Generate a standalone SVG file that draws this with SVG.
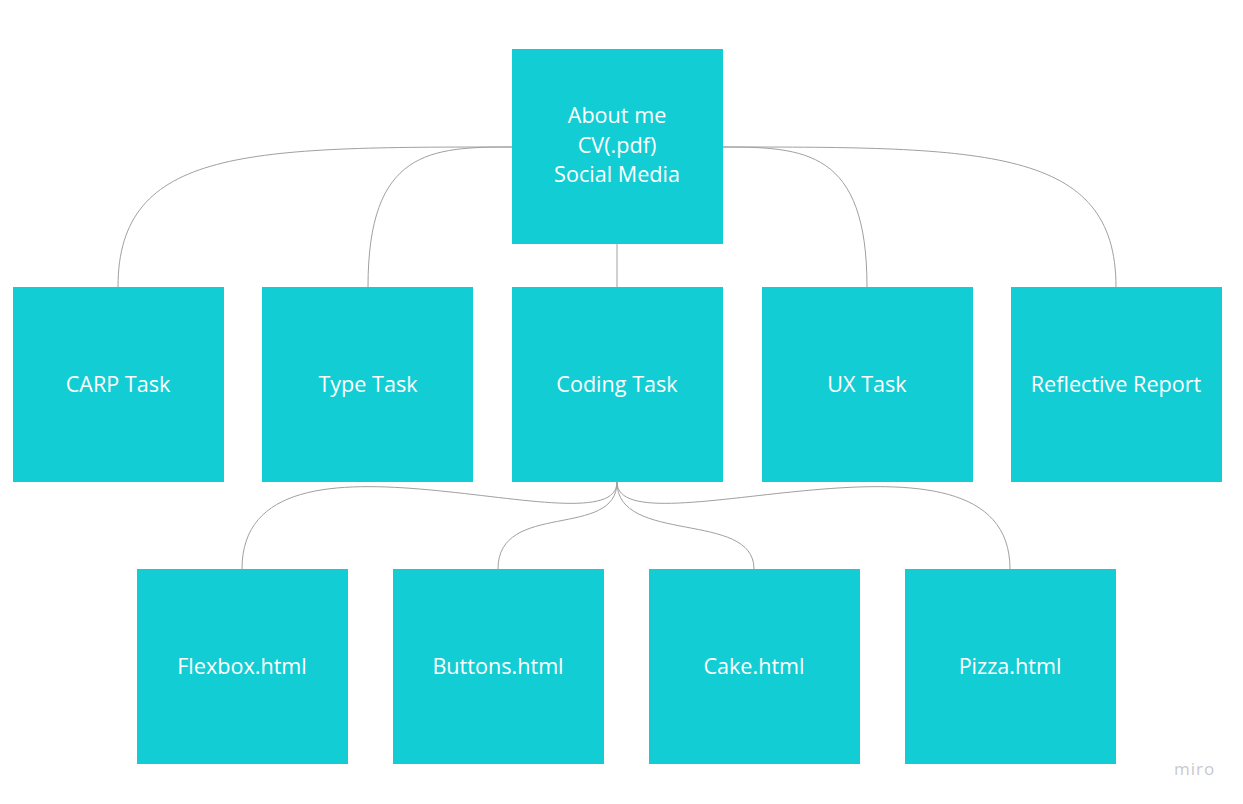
<svg xmlns="http://www.w3.org/2000/svg" width="1243" height="804" viewBox="0 0 1243 804">
<style>
.box{fill:#13cdd4}
.t{font-family:"Open Sans","Noto Sans",sans-serif;font-size:21.6px;fill:#ffffff;text-anchor:middle}
.c{fill:none;stroke:#a0a0a0;stroke-width:1}
.logo{font-family:"Open Sans","Noto Sans",sans-serif;font-size:17px;fill:#c8c8d0;letter-spacing:1px}
</style>
<rect width="1243" height="804" fill="#ffffff"/>
<g id="connectors">
<path class="c" d="M512,147 C250,147 118,147 118,287"/>
<path class="c" d="M512,147 C430,147 368,150 368,287"/>
<path class="c" d="M617,244 L617,287"/>
<path class="c" d="M722,147 C805,147 867,150 867,287"/>
<path class="c" d="M722,147 C985,147 1116,147 1116,287"/>
<path class="c" d="M617,482 C617,556 242,400 242,569"/>
<path class="c" d="M617,482 C617,540 498,500 498,569"/>
<path class="c" d="M617,482 C617,545 754,510 754,569"/>
<path class="c" d="M617,482 C617,556 1010,400 1010,569"/>
</g>
<g id="about">
<rect class="box" x="512" y="49" width="211" height="195"/>
<text class="t" x="617" y="123">About me</text>
<text class="t" x="617" y="152.5">CV(.pdf)</text>
<text class="t" x="617" y="182">Social Media</text>
</g>
<g id="carp">
<rect class="box" x="13" y="287" width="211" height="195"/>
<text class="t" x="118" y="391.5">CARP Task</text>
</g>
<g id="type">
<rect class="box" x="262" y="287" width="211" height="195"/>
<text class="t" x="368" y="391.5">Type Task</text>
</g>
<g id="coding">
<rect class="box" x="512" y="287" width="211" height="195"/>
<text class="t" x="617" y="391.5">Coding Task</text>
</g>
<g id="ux">
<rect class="box" x="762" y="287" width="211" height="195"/>
<text class="t" x="867" y="391.5">UX Task</text>
</g>
<g id="reflective">
<rect class="box" x="1011" y="287" width="211" height="195"/>
<text class="t" x="1116" y="391.5">Reflective Report</text>
</g>
<g id="flexbox">
<rect class="box" x="137" y="569" width="211" height="195"/>
<text class="t" x="242" y="673.5">Flexbox.html</text>
</g>
<g id="buttons">
<rect class="box" x="393" y="569" width="211" height="195"/>
<text class="t" x="498" y="673.5">Buttons.html</text>
</g>
<g id="cake">
<rect class="box" x="649" y="569" width="211" height="195"/>
<text class="t" x="754" y="673.5">Cake.html</text>
</g>
<g id="pizza">
<rect class="box" x="905" y="569" width="211" height="195"/>
<text class="t" x="1010" y="673.5">Pizza.html</text>
</g>
<text class="logo" x="1174" y="775">miro</text>
</svg>
